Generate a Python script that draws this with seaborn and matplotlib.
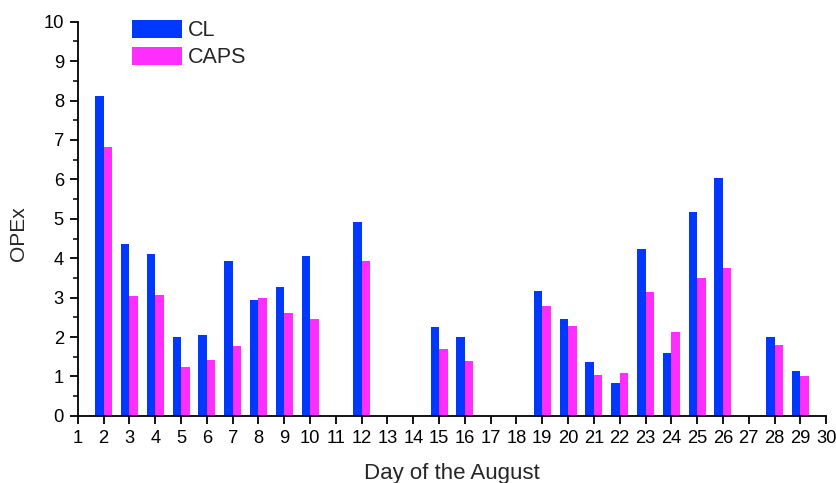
import numpy as np
import pandas as pd
import seaborn as sns
import matplotlib.pyplot as plt
from matplotlib.ticker import MultipleLocator

days = [2, 3, 4, 5, 6, 7, 8, 9, 10, 12, 15, 16, 19, 20, 21, 22, 23, 24, 25, 26, 28, 29]
cl = [8.12, 4.36, 4.10, 1.99, 2.06, 3.92, 2.95, 3.28, 4.05, 4.91, 2.26, 2.01,
      3.18, 2.45, 1.36, 0.83, 4.23, 1.59, 5.16, 6.04, 1.99, 1.14]
caps = [6.81, 3.03, 3.06, 1.24, 1.41, 1.76, 3.00, 2.60, 2.47, 3.92, 1.70, 1.38,
        2.78, 2.29, 1.03, 1.08, 3.15, 2.14, 3.49, 3.76, 1.80, 1.01]

df = pd.DataFrame({
    "day": days * 2,
    "OPEx": cl + caps,
    "series": ["CL"] * len(days) + ["CAPS"] * len(days),
})

sns.set_style("ticks")
plt.rcParams["font.family"] = ["Liberation Sans", "DejaVu Sans"]

fig = plt.figure(figsize=(8.37, 4.83), dpi=100)
ax = fig.add_axes([0.093, 0.139, 0.894, 0.816])

sns.barplot(data=df, x="day", y="OPEx", hue="series", hue_order=["CL", "CAPS"],
            palette={"CL": "#0038FF", "CAPS": "#FF2EFF"}, native_scale=True,
            width=0.66, errorbar=None, linewidth=0, saturation=1, ax=ax)

ax.set_xlim(1, 30)
ax.set_ylim(0, 10)
ax.set_xticks(range(1, 31))
ax.yaxis.set_major_locator(MultipleLocator(1))
ax.yaxis.set_minor_locator(MultipleLocator(0.5))
ax.tick_params(axis="both", which="major", direction="out", length=6, width=1.3,
               labelsize=13.2, colors="black", pad=4)
ax.tick_params(axis="y", which="minor", direction="out", length=3.5, width=1.3)
for s in ["top", "right"]:
    ax.spines[s].set_visible(False)
for s in ["left", "bottom"]:
    ax.spines[s].set_linewidth(1.3)
    ax.spines[s].set_color("black")

ax.set_xlabel("Day of the August", fontsize=16, labelpad=12)
ax.set_ylabel("OPEx", fontsize=15)
ax.yaxis.set_label_coords(-0.067, 0.463)

handles, labels = ax.get_legend_handles_labels()
ax.legend(handles, labels, loc="upper left", bbox_to_anchor=(132 / 837, 1 - 20 / 483),
          bbox_transform=fig.transFigure, frameon=False, fontsize=15.5,
          handlelength=2.3, handleheight=0.9, labelspacing=0.25,
          handletextpad=0.3, borderpad=0, borderaxespad=0)

fig.savefig("out.png", dpi=100)
